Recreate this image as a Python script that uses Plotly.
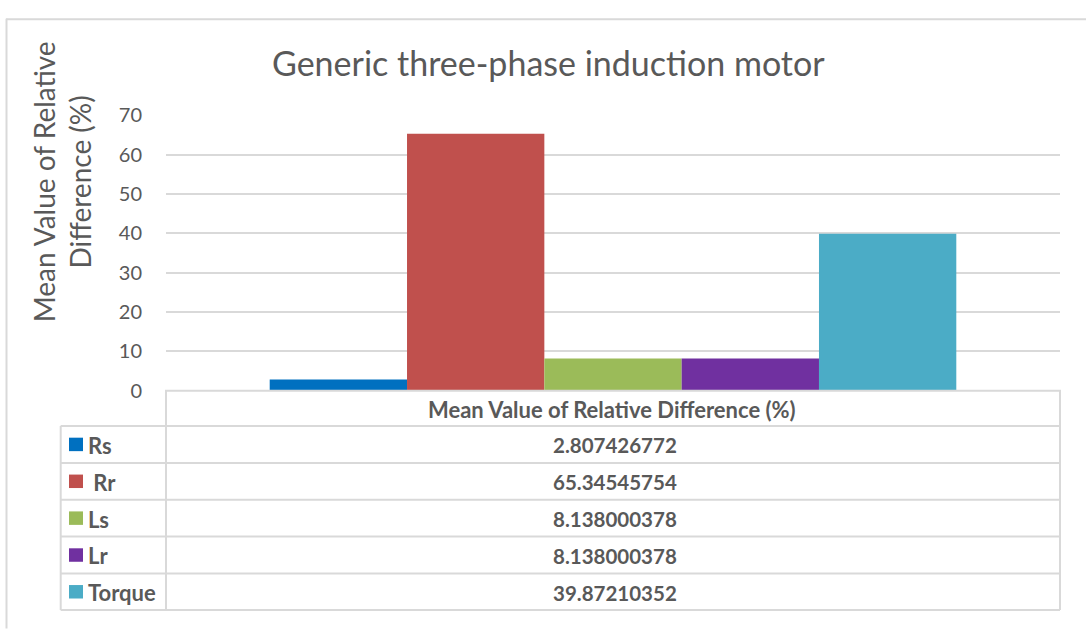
import plotly.graph_objects as go

# ---- data ----
title_text = "Generic three-phase induction motor"
category = ["Mean Value of Relative Difference (%)"]
series_names = ["Rs", " Rr", "Ls", "Lr", "Torque"]
series_values = [2.807426772, 65.34545754, 8.138000378, 8.138000378, 39.87210352]
series_colors = ["#0070C0", "#C0504D", "#9BBB59", "#7030A0", "#4BACC6"]
y_ticks = [0, 10, 20, 30, 40, 50, 60, 70]
y_title = "Mean Value of Relative<br>Difference (%)"

W, H = 1086, 630
FONT = "Lato, 'Open Sans', sans-serif"
GREY = "#595959"
LINE = "#D9D9D9"


def px(x):
    return x / W


def py(y):
    return 1 - y / H


fig = go.Figure()
for name, val, col in zip(series_names, series_values, series_colors):
    fig.add_trace(go.Bar(x=[""], y=[val], name=name.strip(), marker_color=col,
                         marker_line_width=0, showlegend=False))

plot_l, plot_r = 166, 1060
plot_t, plot_b = 106.5, 392.5

fig.update_layout(
    width=W, height=H,
    margin=dict(l=0, r=0, t=0, b=0),
    paper_bgcolor="white", plot_bgcolor="white",
    barmode="group", bargap=0.232, bargroupgap=0,
    xaxis=dict(domain=[px(plot_l), px(plot_r)], showticklabels=False,
               showgrid=False, zeroline=False, showline=False, fixedrange=True),
    yaxis=dict(domain=[py(plot_b), py(plot_t)], range=[0, 70], tickvals=y_ticks,
               showgrid=True, gridcolor=LINE, gridwidth=1.5, zeroline=False,
               showline=False, ticks="", ticklabelstandoff=23,
               tickfont=dict(family=FONT, size=20, color=GREY)),
    font=dict(family=FONT, color=GREY),
)

shapes = []
annotations = []

# outer frame (top and left only visible)
shapes.append(dict(type="line", xref="paper", yref="paper", x0=px(6), x1=px(1090),
                   y0=py(6.5), y1=py(6.5), line=dict(color=LINE, width=2)))
shapes.append(dict(type="line", xref="paper", yref="paper", x0=px(6.5), x1=px(6.5),
                   y0=py(6), y1=py(640), line=dict(color=LINE, width=2)))

# title
annotations.append(dict(text=title_text, xref="paper", yref="paper", x=px(548), y=py(51),
                        showarrow=False, xanchor="center", yanchor="middle",
                        font=dict(family=FONT, size=34, color=GREY)))
# y axis title
annotations.append(dict(text=y_title, xref="paper", yref="paper", x=px(62), y=py(176),
                        showarrow=False, textangle=-90, xanchor="center", yanchor="middle",
                        font=dict(family=FONT, size=28, color=GREY)))

# data table
tbl_l, tbl_mid, tbl_r = 60.7, 166, 1060
row_bounds = [392.7, 429.3, 467.7, 506.0, 544.3, 582.7, 620.7]
lw = 2
shapes.append(dict(type="rect", xref="paper", yref="paper", x0=px(tbl_mid), x1=px(tbl_r),
                   y0=py(row_bounds[0]), y1=py(row_bounds[1]), line=dict(color=LINE, width=lw)))
for yb in row_bounds[1:]:
    shapes.append(dict(type="line", xref="paper", yref="paper", x0=px(tbl_l), x1=px(tbl_r),
                       y0=py(yb), y1=py(yb), line=dict(color=LINE, width=lw)))
shapes.append(dict(type="line", xref="paper", yref="paper", x0=px(tbl_l), x1=px(tbl_l),
                   y0=py(row_bounds[1]), y1=py(row_bounds[-1]), line=dict(color=LINE, width=lw)))
shapes.append(dict(type="line", xref="paper", yref="paper", x0=px(tbl_mid), x1=px(tbl_mid),
                   y0=py(row_bounds[0]), y1=py(row_bounds[-1]), line=dict(color=LINE, width=lw)))
shapes.append(dict(type="line", xref="paper", yref="paper", x0=px(tbl_r), x1=px(tbl_r),
                   y0=py(row_bounds[0]), y1=py(row_bounds[-1]), line=dict(color=LINE, width=lw)))

val_cx = (tbl_mid + tbl_r) / 2
annotations.append(dict(text=category[0], xref="paper", yref="paper", x=px(val_cx - 1),
                        y=py((row_bounds[0] + row_bounds[1]) / 2 + 1), showarrow=False,
                        xanchor="center", yanchor="middle",
                        font=dict(family=FONT, size=22, color=GREY, weight="bold")))

for i, (name, val, col) in enumerate(zip(series_names, series_values, series_colors)):
    yc = (row_bounds[i + 1] + row_bounds[i + 2]) / 2
    shapes.append(dict(type="rect", xref="paper", yref="paper", x0=px(69), x1=px(83),
                       y0=py(yc - 7), y1=py(yc + 7), fillcolor=col, line=dict(width=0)))
    label = name.replace(" ", "\u00a0")
    annotations.append(dict(text=label, xref="paper", yref="paper", x=px(86), y=py(yc + 1),
                            showarrow=False, xanchor="left", yanchor="middle",
                            font=dict(family=FONT, size=22, color=GREY, weight="bold")))
    annotations.append(dict(text=f"{val:.10g}", xref="paper", yref="paper", x=px(val_cx + 2),
                            y=py(yc + 1), showarrow=False, xanchor="center", yanchor="middle",
                            font=dict(family=FONT, size=20.5, color=GREY, weight="bold")))

fig.update_layout(shapes=shapes, annotations=annotations)
fig.write_html("out.html", config={"displayModeBar": False},
               post_script="document.body.style.margin='0px';document.body.style.overflow='hidden';")
